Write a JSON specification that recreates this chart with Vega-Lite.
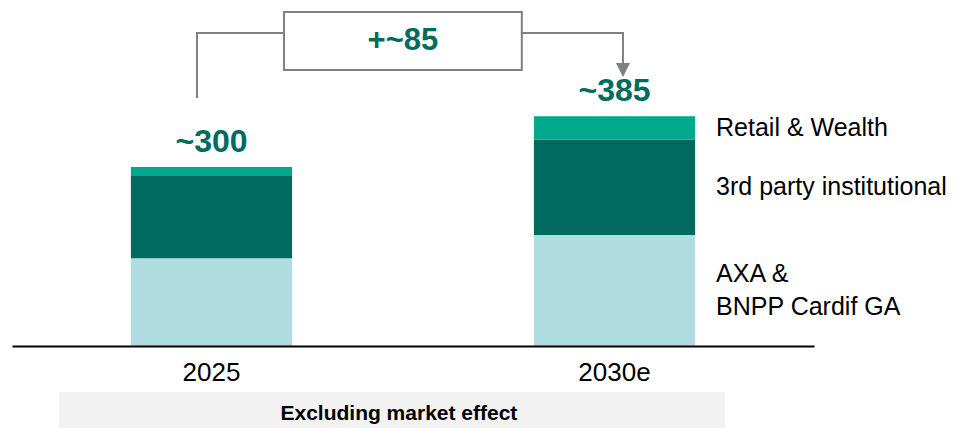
{
  "$schema": "https://vega.github.io/schema/vega-lite/v6.json",
  "autosize": {"type": "none"},
  "padding": {"left": 12, "right": 146, "top": 0, "bottom": 82},
  "width": 802,
  "height": 346,
  "background": "white",
  "config": {
    "view": {"stroke": null},
    "font": "Liberation Sans"
  },
  "datasets": {
    "segments": [
      {"year": "2025", "segment": "AXA & BNPP Cardif GA", "label": "AXA &\nBNPP Cardif GA", "order": 1, "value": 147},
      {"year": "2025", "segment": "3rd party institutional", "label": "3rd party institutional", "order": 2, "value": 138},
      {"year": "2025", "segment": "Retail & Wealth", "label": "Retail & Wealth", "order": 3, "value": 15},
      {"year": "2030e", "segment": "AXA & BNPP Cardif GA", "label": "AXA &\nBNPP Cardif GA", "order": 1, "value": 186},
      {"year": "2030e", "segment": "3rd party institutional", "label": "3rd party institutional", "order": 2, "value": 160},
      {"year": "2030e", "segment": "Retail & Wealth", "label": "Retail & Wealth", "order": 3, "value": 39}
    ],
    "totals": [
      {"year": "2025", "total": 300, "label": "~300"},
      {"year": "2030e", "total": 385, "label": "~385"}
    ],
    "growth": [{"label": "+~85"}],
    "note": [{"label": "Excluding market effect"}]
  },
  "resolve": {"scale": {"x": "independent"}},
  "layer": [
    {
      "layer": [
        {
          "data": {"name": "segments"},
          "mark": {"type": "bar"},
          "encoding": {
            "x": {
              "field": "year",
              "type": "nominal",
              "scale": {"paddingInner": 0.6, "paddingOuter": 0.295},
              "axis": {
                "title": null,
                "orient": "bottom",
                "zindex": 1,
                "domainColor": "#000000",
                "domainWidth": 2,
                "ticks": false,
                "labelAngle": 0,
                "labelFontSize": 26,
                "labelColor": "#000000",
                "labelFont": "Liberation Sans",
                "labelPadding": 13,
                "grid": false
              }
            },
            "y": {
              "field": "value",
              "type": "quantitative",
              "stack": "zero",
              "scale": {"domain": [0, 580], "nice": false},
              "axis": null
            },
            "color": {
              "field": "segment",
              "type": "nominal",
              "scale": {
                "domain": ["AXA & BNPP Cardif GA", "3rd party institutional", "Retail & Wealth"],
                "range": ["#b0dbe1", "#006a60", "#00a88e"]
              },
              "legend": null
            },
            "order": {"field": "order", "type": "quantitative", "sort": "ascending"}
          }
        },
        {
          "data": {"name": "totals"},
          "mark": {"type": "text", "fontSize": 32, "fontWeight": "bold", "color": "#006b5f", "align": "center", "baseline": "alphabetic", "dy": -15},
          "encoding": {
            "x": {"field": "year", "type": "nominal"},
            "y": {"field": "total", "type": "quantitative"},
            "text": {"field": "label"}
          }
        },
        {
          "data": {"name": "segments"},
          "transform": [
            {"filter": "datum.year === '2030e'"},
            {"stack": "value", "groupby": ["year"], "sort": [{"field": "order", "order": "ascending"}], "as": ["lo", "hi"]},
            {"calculate": "(datum.lo + datum.hi) / 2", "as": "mid"},
            {"filter": "datum.order > 1"}
          ],
          "mark": {"type": "text", "fontSize": 25, "color": "#000000", "align": "left", "baseline": "middle"},
          "encoding": {
            "x": {"field": "year", "type": "nominal", "bandPosition": 1.13},
            "y": {"field": "mid", "type": "quantitative"},
            "text": {"field": "label"}
          }
        },
        {
          "data": {"name": "segments"},
          "transform": [
            {"filter": "datum.year === '2030e'"},
            {"stack": "value", "groupby": ["year"], "sort": [{"field": "order", "order": "ascending"}], "as": ["lo", "hi"]},
            {"calculate": "(datum.lo + datum.hi) / 2", "as": "mid"},
            {"filter": "datum.order === 1"}
          ],
          "mark": {"type": "text", "fontSize": 25, "color": "#000000", "align": "left", "baseline": "middle", "lineBreak": "\n", "lineHeight": 33, "dy": -16.5},
          "encoding": {
            "x": {"field": "year", "type": "nominal", "bandPosition": 1.13},
            "y": {"field": "mid", "type": "quantitative"},
            "text": {"field": "label"}
          }
        }
      ]
    },
    {
      "layer": [
        {
          "data": {"name": "note"},
          "mark": {"type": "rect", "fill": "#f2f2f2"},
          "encoding": {
            "x": {"datum": -0.378, "type": "quantitative", "scale": {"domain": [-0.495, 1.495], "nice": false, "zero": false}, "axis": null},
            "x2": {"datum": 1.274},
            "y": {"datum": -77, "type": "quantitative"},
            "y2": {"datum": -140}
          }
        },
        {
          "data": {"name": "note"},
          "mark": {"type": "text", "fontSize": 21, "fontWeight": "bold", "color": "#000000", "align": "center", "baseline": "middle"},
          "encoding": {
            "x": {"datum": 0.465, "type": "quantitative", "scale": {"domain": [-0.495, 1.495], "nice": false, "zero": false}, "axis": null},
            "y": {"datum": -114.7, "type": "quantitative"},
            "text": {"field": "label"}
          }
        },
        {
          "data": {"name": "growth"},
          "mark": {"type": "rule", "color": "#808080", "strokeWidth": 2, "strokeCap": "square"},
          "encoding": {
            "x": {"datum": -0.036, "type": "quantitative", "scale": {"domain": [-0.495, 1.495], "nice": false, "zero": false}, "axis": null},
            "y": {"datum": 417.4, "type": "quantitative"},
            "y2": {"datum": 524.7}
          }
        },
        {
          "data": {"name": "growth"},
          "mark": {"type": "rule", "color": "#808080", "strokeWidth": 2, "strokeCap": "square"},
          "encoding": {
            "x": {"datum": -0.036, "type": "quantitative", "scale": {"domain": [-0.495, 1.495], "nice": false, "zero": false}, "axis": null},
            "x2": {"datum": 1.021},
            "y": {"datum": 524.7, "type": "quantitative"}
          }
        },
        {
          "data": {"name": "growth"},
          "mark": {"type": "rule", "color": "#808080", "strokeWidth": 2, "strokeCap": "square"},
          "encoding": {
            "x": {"datum": 1.021, "type": "quantitative", "scale": {"domain": [-0.495, 1.495], "nice": false, "zero": false}, "axis": null},
            "y": {"datum": 524.7, "type": "quantitative"},
            "y2": {"datum": 472.7}
          }
        },
        {
          "data": {"name": "growth"},
          "mark": {"type": "point", "shape": "M-1,-1L1,-1L0,1Z", "filled": true, "fill": "#808080", "opacity": 1, "size": 196, "strokeWidth": 0},
          "encoding": {
            "x": {"datum": 1.021, "type": "quantitative", "scale": {"domain": [-0.495, 1.495], "nice": false, "zero": false}, "axis": null},
            "y": {"datum": 462.7, "type": "quantitative"}
          }
        },
        {
          "data": {"name": "growth"},
          "mark": {"type": "rect", "fill": "#ffffff", "stroke": "#808080", "strokeWidth": 2},
          "encoding": {
            "x": {"datum": 0.18, "type": "quantitative", "scale": {"domain": [-0.495, 1.495], "nice": false, "zero": false}, "axis": null},
            "x2": {"datum": 0.77},
            "y": {"datum": 559.9, "type": "quantitative"},
            "y2": {"datum": 462.7}
          }
        },
        {
          "data": {"name": "growth"},
          "mark": {"type": "text", "fontSize": 31, "fontWeight": "bold", "color": "#006b5f", "align": "center", "baseline": "middle"},
          "encoding": {
            "x": {"datum": 0.475, "type": "quantitative", "scale": {"domain": [-0.495, 1.495], "nice": false, "zero": false}, "axis": null},
            "y": {"datum": 511.3, "type": "quantitative"},
            "text": {"field": "label"}
          }
        }
      ]
    }
  ]
}
